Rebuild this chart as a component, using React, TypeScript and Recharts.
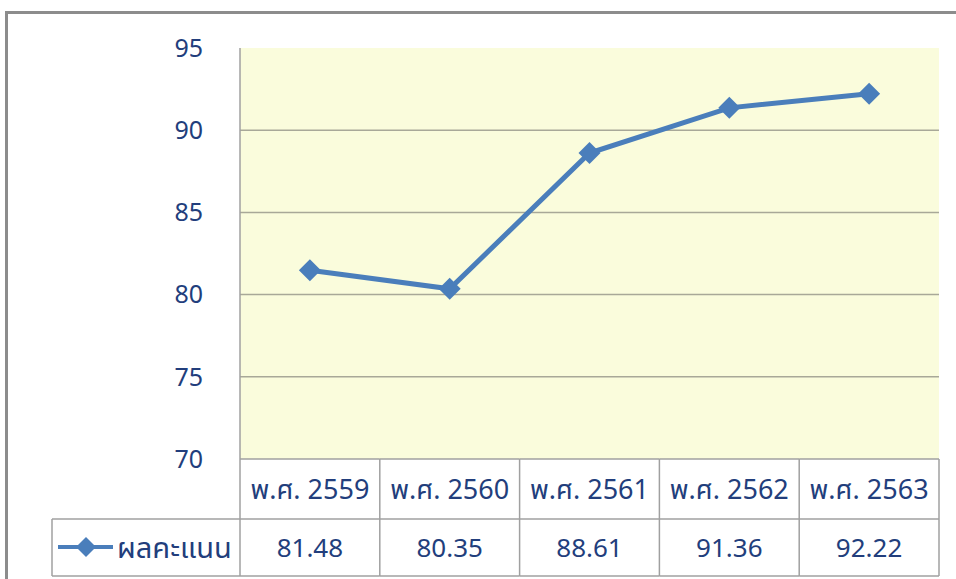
import React from 'react';
import { LineChart, Line, XAxis, YAxis, CartesianGrid } from 'recharts';

const categories = ['พ.ศ. 2559', 'พ.ศ. 2560', 'พ.ศ. 2561', 'พ.ศ. 2562', 'พ.ศ. 2563'];
const scores = [81.48, 80.35, 88.61, 91.36, 92.22];
const yTicks = [70, 75, 80, 85, 90, 95];
const gridValues = [75, 80, 85, 90];
const seriesName = 'ผลคะแนน';

const data = categories.map((c, i) => ({ cat: c, score: scores[i] }));

const TEXT = '#223E7C';
const LINE = '#4A7EBB';
const BORDER = '#A0A0A0';
const FONT = "Tahoma, 'Noto Sans Thai', 'Noto Sans', sans-serif";

const Diamond = (props: any) => {
  const { cx, cy } = props;
  if (cx == null || cy == null) return null;
  const r = 11;
  return <path d={`M${cx},${cy - r} L${cx + r},${cy} L${cx},${cy + r} L${cx - r},${cy} Z`} fill={LINE} />;
};

const TableTick = (props: any) => {
  const { x, y, payload, index, width, visibleTicksCount } = props;
  const n = visibleTicksCount || categories.length;
  const w = width / n;
  const left = x - w / 2;
  const right = x + w / 2;
  const rowTop = y;
  const rowMid = y + 60;
  const rowBot = y + 117;
  const val = scores[index];
  return (
    <g>
      <line x1={left} x2={right} y1={rowTop} y2={rowTop} stroke={BORDER} strokeWidth={1.5} />
      <line x1={left} x2={right} y1={rowMid} y2={rowMid} stroke={BORDER} strokeWidth={1.5} />
      <line x1={left} x2={right} y1={rowBot} y2={rowBot} stroke={BORDER} strokeWidth={1.5} />
      <line x1={left} x2={left} y1={rowTop} y2={rowBot} stroke={BORDER} strokeWidth={1.5} />
      {index === n - 1 && (
        <line x1={right} x2={right} y1={rowTop} y2={rowBot} stroke={BORDER} strokeWidth={1.5} />
      )}
      <text x={x} y={rowTop + 31} textAnchor="middle" dominantBaseline="central" fill={TEXT} fontSize={27} fontFamily={FONT}>
        {payload.value}
      </text>
      <text x={x} y={rowMid + 30} textAnchor="middle" dominantBaseline="central" fill={TEXT} fontSize={26} fontFamily={FONT}>
        {val != null ? val.toFixed(2) : ''}
      </text>
      {index === 0 && (
        <g>
          <line x1={left - 188} x2={left} y1={rowMid} y2={rowMid} stroke={BORDER} strokeWidth={1.5} />
          <line x1={left - 188} x2={left} y1={rowBot} y2={rowBot} stroke={BORDER} strokeWidth={1.5} />
          <line x1={left - 188} x2={left - 188} y1={rowMid} y2={rowBot} stroke={BORDER} strokeWidth={1.5} />
          <line x1={left - 182} x2={left - 127} y1={rowMid + 28} y2={rowMid + 28} stroke={LINE} strokeWidth={4} />
          <path
            d={`M${left - 154},${rowMid + 18} L${left - 144},${rowMid + 28} L${left - 154},${rowMid + 38} L${left - 164},${rowMid + 28} Z`}
            fill={LINE}
          />
          <text x={left - 123} y={rowMid + 30} textAnchor="start" dominantBaseline="central" fill={TEXT} fontSize={29} fontFamily={FONT}>
            {seriesName}
          </text>
        </g>
      )}
    </g>
  );
};

export default function App() {
  return (
    <div style={{ position: 'absolute', left: 0, top: 0, width: 956, height: 579, background: '#fff', overflow: 'hidden' }}>
      <div
        style={{
          position: 'absolute',
          left: 5,
          top: 11,
          width: 1000,
          height: 700,
          borderTop: '3px solid #8C8C8C',
          borderLeft: '3px solid #8C8C8C',
        }}
      />
      <div style={{ position: 'absolute', left: 0, top: 0 }}>
        <LineChart width={956} height={579} data={data} margin={{ top: 48, right: 17, bottom: 0, left: 0 }}>
          <CartesianGrid
            vertical={false}
            horizontalValues={gridValues}
            fill="#FAFCDC"
            stroke="#A8A898"
            strokeWidth={1.5}
          />
          <XAxis
            dataKey="cat"
            scale="band"
            height={120}
            axisLine={false}
            tickLine={false}
            tickSize={0}
            tickMargin={0}
            interval={0}
            tick={<TableTick />}
          />
          <YAxis
            width={240}
            domain={[70, 95]}
            ticks={yTicks}
            axisLine={{ stroke: BORDER, strokeWidth: 1.5 }}
            tickLine={false}
            tickSize={0}
            tickMargin={37}
            tick={{ fill: TEXT, fontSize: 25, fontFamily: FONT }}
            interval={0}
          />
          <Line
            type="linear"
            dataKey="score"
            stroke={LINE}
            strokeWidth={5}
            dot={<Diamond />}
            activeDot={false}
            isAnimationActive={false}
          />
        </LineChart>
      </div>
    </div>
  );
}
